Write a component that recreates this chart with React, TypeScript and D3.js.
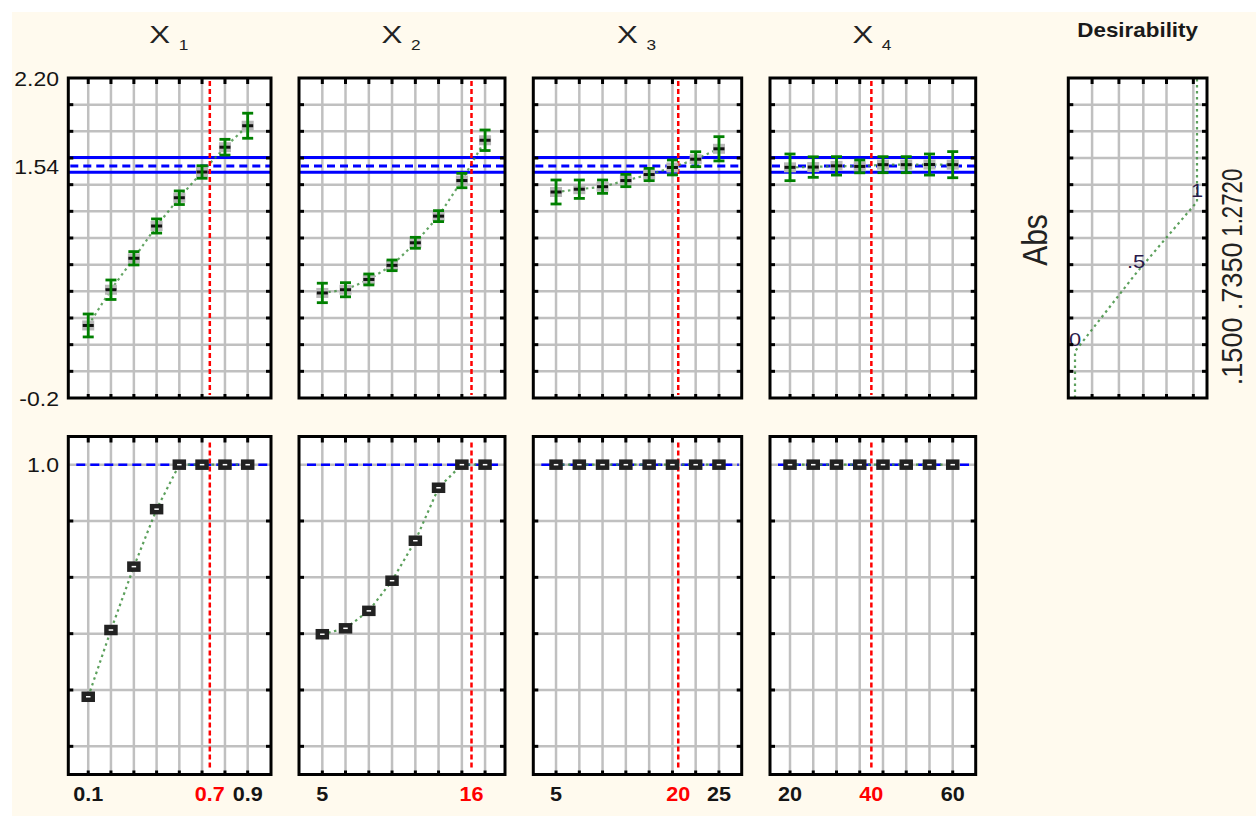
import React from "react";
import * as d3 from "d3";

// ---------------- data ----------------
const factorSubscripts = ["1", "2", "3", "4"];

const levelsX1 = [0.1, 0.214, 0.329, 0.443, 0.557, 0.671, 0.786, 0.9];
const levelsX2 = [5, 6.71, 8.43, 10.14, 11.86, 13.57, 15.29, 17];
const levelsX3 = [5, 7.86, 10.71, 13.57, 16.43, 19.29, 22.14, 25];
const levelsX4 = [20, 25.71, 31.43, 37.14, 42.86, 48.57, 54.29, 60];

const absX1 = [0.344, 0.612, 0.848, 1.09, 1.302, 1.495, 1.681, 1.842];
const absX2 = [0.588, 0.612, 0.689, 0.795, 0.964, 1.164, 1.431, 1.733];
const absX3 = [1.345, 1.366, 1.385, 1.431, 1.476, 1.529, 1.591, 1.669];
const absX4 = [1.53, 1.532, 1.541, 1.537, 1.55, 1.55, 1.551, 1.55];

const errX1 = [0.086, 0.073, 0.05, 0.053, 0.051, 0.047, 0.059, 0.094];
const errX2 = [0.073, 0.053, 0.041, 0.04, 0.041, 0.041, 0.054, 0.077];
const errX3 = [0.09, 0.069, 0.05, 0.046, 0.046, 0.056, 0.056, 0.091];
const errX4 = [0.1, 0.077, 0.069, 0.048, 0.06, 0.06, 0.079, 0.098];

const desX1 = [0.176, 0.413, 0.638, 0.842, 1, 1, 1, 1];
const desX2 = [0.398, 0.419, 0.481, 0.588, 0.73, 0.918, 1, 1];
const desX3 = [1, 1, 1, 1, 1, 1, 1, 1];
const desX4 = [1, 1, 1, 1, 1, 1, 1, 1];

const domainX1 = [0.0, 1.017];
const domainX2 = [3.28, 18.47];
const domainX3 = [2.21, 27.79];
const domainX4 = [15.08, 65.65];

const optimumValues = [0.71, 16, 20, 40];
const optimumLabels = ["0.7", "16", "20", "40"];

const edgeTicksX1 = [0.1, 0.9];
const edgeTicksX2 = [5];
const edgeTicksX3 = [5, 25];
const edgeTicksX4 = [20, 60];
const edgeLabelsX1 = ["0.1", "0.9"];
const edgeLabelsX2 = ["5"];
const edgeLabelsX3 = ["5", "25"];
const edgeLabelsX4 = ["20", "60"];

const absDomain = [-0.2, 2.2];
const absGrid = [0, 0.2, 0.4, 0.6, 0.8, 1.0, 1.2, 1.4, 1.6, 1.8, 2.0];
const absTickValues = [2.2, 1.54, -0.2];
const absTickLabels = ["2.20", "1.54", "-0.2"];
const absTarget = 1.54;
const absBand = [1.493, 1.604];

const desDomain = [-0.1, 1.1];
const desGrid = [0, 0.2, 0.4, 0.6, 0.8, 1.0];
const desTickValues = [1.0];
const desTickLabels = ["1.0"];

const desCurveD = [0, 0, 0.5, 1, 1];
const desCurveAbs = [-0.2, 0.15, 0.735, 1.272, 2.2];
const desPointD = [0, 0.5, 1];
const desPointAbs = [0.15, 0.735, 1.272];
const desPointLabels = ["0", ".5", "1"];
const desAxisLabels = [".1500", ".7350", "1.2720"];
const desAxisDomain = [-0.055, 1.082];
const desAxisGrid = [0.14, 0.36, 0.56, 0.75, 0.97];

// ---------------- layout ----------------
const W = 1256;
const H = 816;
const BG = "#FFFAEE";
const FONT = "'Liberation Sans', Arial, Helvetica, sans-serif";
const colFrames = [
  [68.3, 271],
  [299, 505],
  [533.3, 741.7],
  [770, 975.7],
];
const topRow = [78, 398];
const botRow = [436.5, 774.5];
const desFrame = [1068.3, 1207];
const desAxisLabelShift = [0, 3, 1];

const GRID = "#c0c0c0";
const BLUE = "#0000ff";
const RED = "#ff0000";
const GREEN = "#008000";
const FIT = "#3f8f3f";

const panels = [
  { levels: levelsX1, abs: absX1, err: errX1, des: desX1, domain: domainX1, edge: edgeTicksX1, edgeLabels: edgeLabelsX1 },
  { levels: levelsX2, abs: absX2, err: errX2, des: desX2, domain: domainX2, edge: edgeTicksX2, edgeLabels: edgeLabelsX2 },
  { levels: levelsX3, abs: absX3, err: errX3, des: desX3, domain: domainX3, edge: edgeTicksX3, edgeLabels: edgeLabelsX3 },
  { levels: levelsX4, abs: absX4, err: errX4, des: desX4, domain: domainX4, edge: edgeTicksX4, edgeLabels: edgeLabelsX4 },
];

function T(props: any) {
  const { x, y, children, size = 20, anchor = "middle", fill = "#151515", sx = 1.15, weight = "normal", rotate = 0, len } = props;
  return (
    <text
      transform={`translate(${x},${y}) scale(${sx},1)${rotate ? ` rotate(${rotate})` : ""}`}
      fontSize={size}
      textAnchor={anchor}
      fill={fill}
      fontFamily={FONT}
      fontWeight={weight}
      textLength={len}
      lengthAdjust={len ? "spacingAndGlyphs" : undefined}
    >
      {children}
    </text>
  );
}

function Frame({ x0, x1, y0, y1, xt, yt }: any) {
  return (
    <g>
      <rect x={x0} y={y0} width={x1 - x0} height={y1 - y0} fill="none" stroke="#000" strokeWidth={3} />
      {xt.map((x: number, i: number) => (
        <g key={"xt" + i}>
          <line x1={x} x2={x} y1={y0} y2={y0 + 6} stroke="#000" strokeWidth={3} />
          <line x1={x} x2={x} y1={y1} y2={y1 - 4} stroke="#000" strokeWidth={3} />
        </g>
      ))}
      {yt.map((y: number, i: number) => (
        <g key={"yt" + i}>
          <line x1={x0} x2={x0 + 5} y1={y} y2={y} stroke="#000" strokeWidth={3} />
          <line x1={x1} x2={x1 - 5} y1={y} y2={y} stroke="#000" strokeWidth={3} />
        </g>
      ))}
    </g>
  );
}

export default function App() {
  const yAbs = d3.scaleLinear().domain(absDomain).range([topRow[1], topRow[0]]);
  const yDes = d3.scaleLinear().domain(desDomain).range([botRow[1], botRow[0]]);
  const xDesAxis = d3.scaleLinear().domain(desAxisDomain).range(desFrame);

  const fitLine = d3.line<[number, number]>().x((d) => d[0]).y((d) => d[1]);

  return (
    <svg
      width={W}
      height={H}
      viewBox={`0 0 ${W} ${H}`}
      style={{ position: "absolute", left: 0, top: 0, display: "block" }}
    >
      <rect x={0} y={0} width={W} height={H} fill="#ffffff" />
      <rect x={12} y={12} width={W - 12} height={H - 12} fill={BG} />

      {panels.map((p, i) => {
        const [fx0, fx1] = colFrames[i];
        const xs = d3.scaleLinear().domain(p.domain).range([fx0, fx1]);
        const pc = (fx0 + fx1) / 2;
        const xGrid = p.levels.map((v) => xs(v));
        const yGridTop = absGrid.map((v) => yAbs(v));
        const yGridBot = desGrid.map((v) => yDes(v));
        const xOpt = xs(optimumValues[i]);
        const topPts: [number, number][] = p.levels.map((v, k) => [xs(v), yAbs(p.abs[k])]);
        const botPts: [number, number][] = p.levels.map((v, k) => [xs(v), yDes(p.des[k])]);
        return (
          <g key={"panel" + i}>
            {/* title */}
            <T x={pc - 10} y={43} size={24} sx={1.3} fill="#222">X</T>
            <T x={pc + 9} y={50} size={15} anchor="start" fill="#222">{factorSubscripts[i]}</T>

            {/* ---------- top panel ---------- */}
            <rect x={fx0} y={topRow[0]} width={fx1 - fx0} height={topRow[1] - topRow[0]} fill="#fff" />
            {xGrid.map((x, k) => (
              <line key={"vg" + k} x1={x} x2={x} y1={topRow[0]} y2={topRow[1]} stroke={GRID} strokeWidth={2.5} />
            ))}
            {yGridTop.map((y, k) => (
              <line key={"hg" + k} x1={fx0} x2={fx1} y1={y} y2={y} stroke={GRID} strokeWidth={2.5} />
            ))}
            {absBand.map((v, k) => (
              <line key={"band" + k} x1={fx0} x2={fx1} y1={yAbs(v)} y2={yAbs(v)} stroke={BLUE} strokeWidth={3} />
            ))}
            <line x1={fx0 + 2} x2={fx1} y1={yAbs(absTarget)} y2={yAbs(absTarget)} stroke={BLUE} strokeWidth={3} strokeDasharray="8,5" />
            <path d={fitLine(topPts) || ""} fill="none" stroke={FIT} strokeWidth={2.2} strokeDasharray="2.5,3.5" opacity={0.8} />
            <line x1={xOpt} x2={xOpt} y1={topRow[0] + 3} y2={topRow[1] - 3} stroke={RED} strokeWidth={2.5} strokeDasharray="5,3" />
            {topPts.map(([x, y], k) => (
              <g key={"m" + k}>
                <rect x={x - 6} y={y - 5} width={12} height={10} fill="#b8b8b8" />
                <line x1={x - 5.5} x2={x + 5.5} y1={y} y2={y} stroke="#111" strokeWidth={3} />
              </g>
            ))}
            {topPts.map(([x], k) => {
              const yt = yAbs(p.abs[k] + p.err[k]);
              const yb = yAbs(p.abs[k] - p.err[k]);
              return (
                <g key={"eb" + k} stroke={GREEN} strokeWidth={2.8}>
                  <line x1={x} x2={x} y1={yt} y2={yb} />
                  <line x1={x - 5.5} x2={x + 5.5} y1={yt} y2={yt} />
                  <line x1={x - 5.5} x2={x + 5.5} y1={yb} y2={yb} />
                </g>
              );
            })}
            <Frame x0={fx0} x1={fx1} y0={topRow[0]} y1={topRow[1]} xt={xGrid} yt={yGridTop} />

            {/* ---------- bottom panel ---------- */}
            <rect x={fx0} y={botRow[0]} width={fx1 - fx0} height={botRow[1] - botRow[0]} fill="#fff" />
            {xGrid.map((x, k) => (
              <line key={"bvg" + k} x1={x} x2={x} y1={botRow[0]} y2={botRow[1]} stroke={GRID} strokeWidth={2.5} />
            ))}
            {yGridBot.map((y, k) => (
              <line key={"bhg" + k} x1={fx0} x2={fx1} y1={y} y2={y} stroke={GRID} strokeWidth={2.5} />
            ))}
            <line x1={fx0 + 8} x2={fx1 - 3} y1={yDes(1)} y2={yDes(1)} stroke={BLUE} strokeWidth={2.5} strokeDasharray="9,5" />
            <path d={fitLine(botPts) || ""} fill="none" stroke={FIT} strokeWidth={2.2} strokeDasharray="2.5,3.5" opacity={0.85} />
            <line x1={xOpt} x2={xOpt} y1={botRow[0] + 6} y2={botRow[1] - 6} stroke={RED} strokeWidth={2.5} strokeDasharray="5,3" />
            {botPts.map(([x, y], k) => (
              <rect key={"bm" + k} x={x - 4.5} y={y - 3} width={9} height={6} fill="#fff" stroke="#222" strokeWidth={4.5} />
            ))}
            <Frame x0={fx0} x1={fx1} y0={botRow[0]} y1={botRow[1]} xt={xGrid} yt={yGridBot.slice(0, 5)} />

            {/* x labels */}
            {p.edge.map((v, k) => (
              <T key={"el" + k} x={xs(v)} y={801} size={20} weight="bold" sx={1.08}>{p.edgeLabels[k]}</T>
            ))}
            <T x={xOpt} y={801} size={20} weight="bold" sx={1.08} fill={RED}>{optimumLabels[i]}</T>
          </g>
        );
      })}

      {/* y labels */}
      {absTickValues.map((v, k) => (
        <T key={"ya" + k} x={59} y={yAbs(v) + 7.5} size={20} anchor="end">{absTickLabels[k]}</T>
      ))}
      {desTickValues.map((v, k) => (
        <T key={"yd" + k} x={59} y={yDes(v) + 7.5} size={20} anchor="end">{desTickLabels[k]}</T>
      ))}

      {/* ---------- desirability profile ---------- */}
      <T x={(desFrame[0] + desFrame[1]) / 2} y={37} size={20} weight="bold" sx={1.12} fill="#1a1a1a">Desirability</T>
      <rect x={desFrame[0]} y={topRow[0]} width={desFrame[1] - desFrame[0]} height={topRow[1] - topRow[0]} fill="#fff" />
      {desAxisGrid.map((v, k) => (
        <line key={"dvg" + k} x1={xDesAxis(v)} x2={xDesAxis(v)} y1={topRow[0]} y2={topRow[1]} stroke={GRID} strokeWidth={2.5} />
      ))}
      {absGrid.map((v, k) => (
        <line key={"dhg" + k} x1={desFrame[0]} x2={desFrame[1]} y1={yAbs(v)} y2={yAbs(v)} stroke={GRID} strokeWidth={2.5} />
      ))}
      <path
        d={fitLine(desCurveD.map((d, k) => [xDesAxis(d), yAbs(desCurveAbs[k])] as [number, number])) || ""}
        fill="none"
        stroke={FIT}
        strokeWidth={2.2}
        strokeDasharray="2.5,3.5"
        opacity={0.85}
      />
      {desPointD.map((d, k) => (
        <T key={"dpl" + k} x={xDesAxis(d)} y={yAbs(desPointAbs[k]) - 5} size={19} fill="#2a1a4a">{desPointLabels[k]}</T>
      ))}
      <Frame
        x0={desFrame[0]}
        x1={desFrame[1]}
        y0={topRow[0]}
        y1={topRow[1]}
        xt={desAxisGrid.map((v) => xDesAxis(v))}
        yt={absGrid.map((v) => yAbs(v))}
      />
      <T x={1047} y={240} size={30} rotate={-90} fill="#222">Abs</T>
      {desPointAbs.map((v, k) => (
        <T key={"dal" + k} x={1242} y={yAbs(v) + desAxisLabelShift[k]} size={25} rotate={-90} fill="#222" len={68}>
          {desAxisLabels[k]}
        </T>
      ))}
    </svg>
  );
}
